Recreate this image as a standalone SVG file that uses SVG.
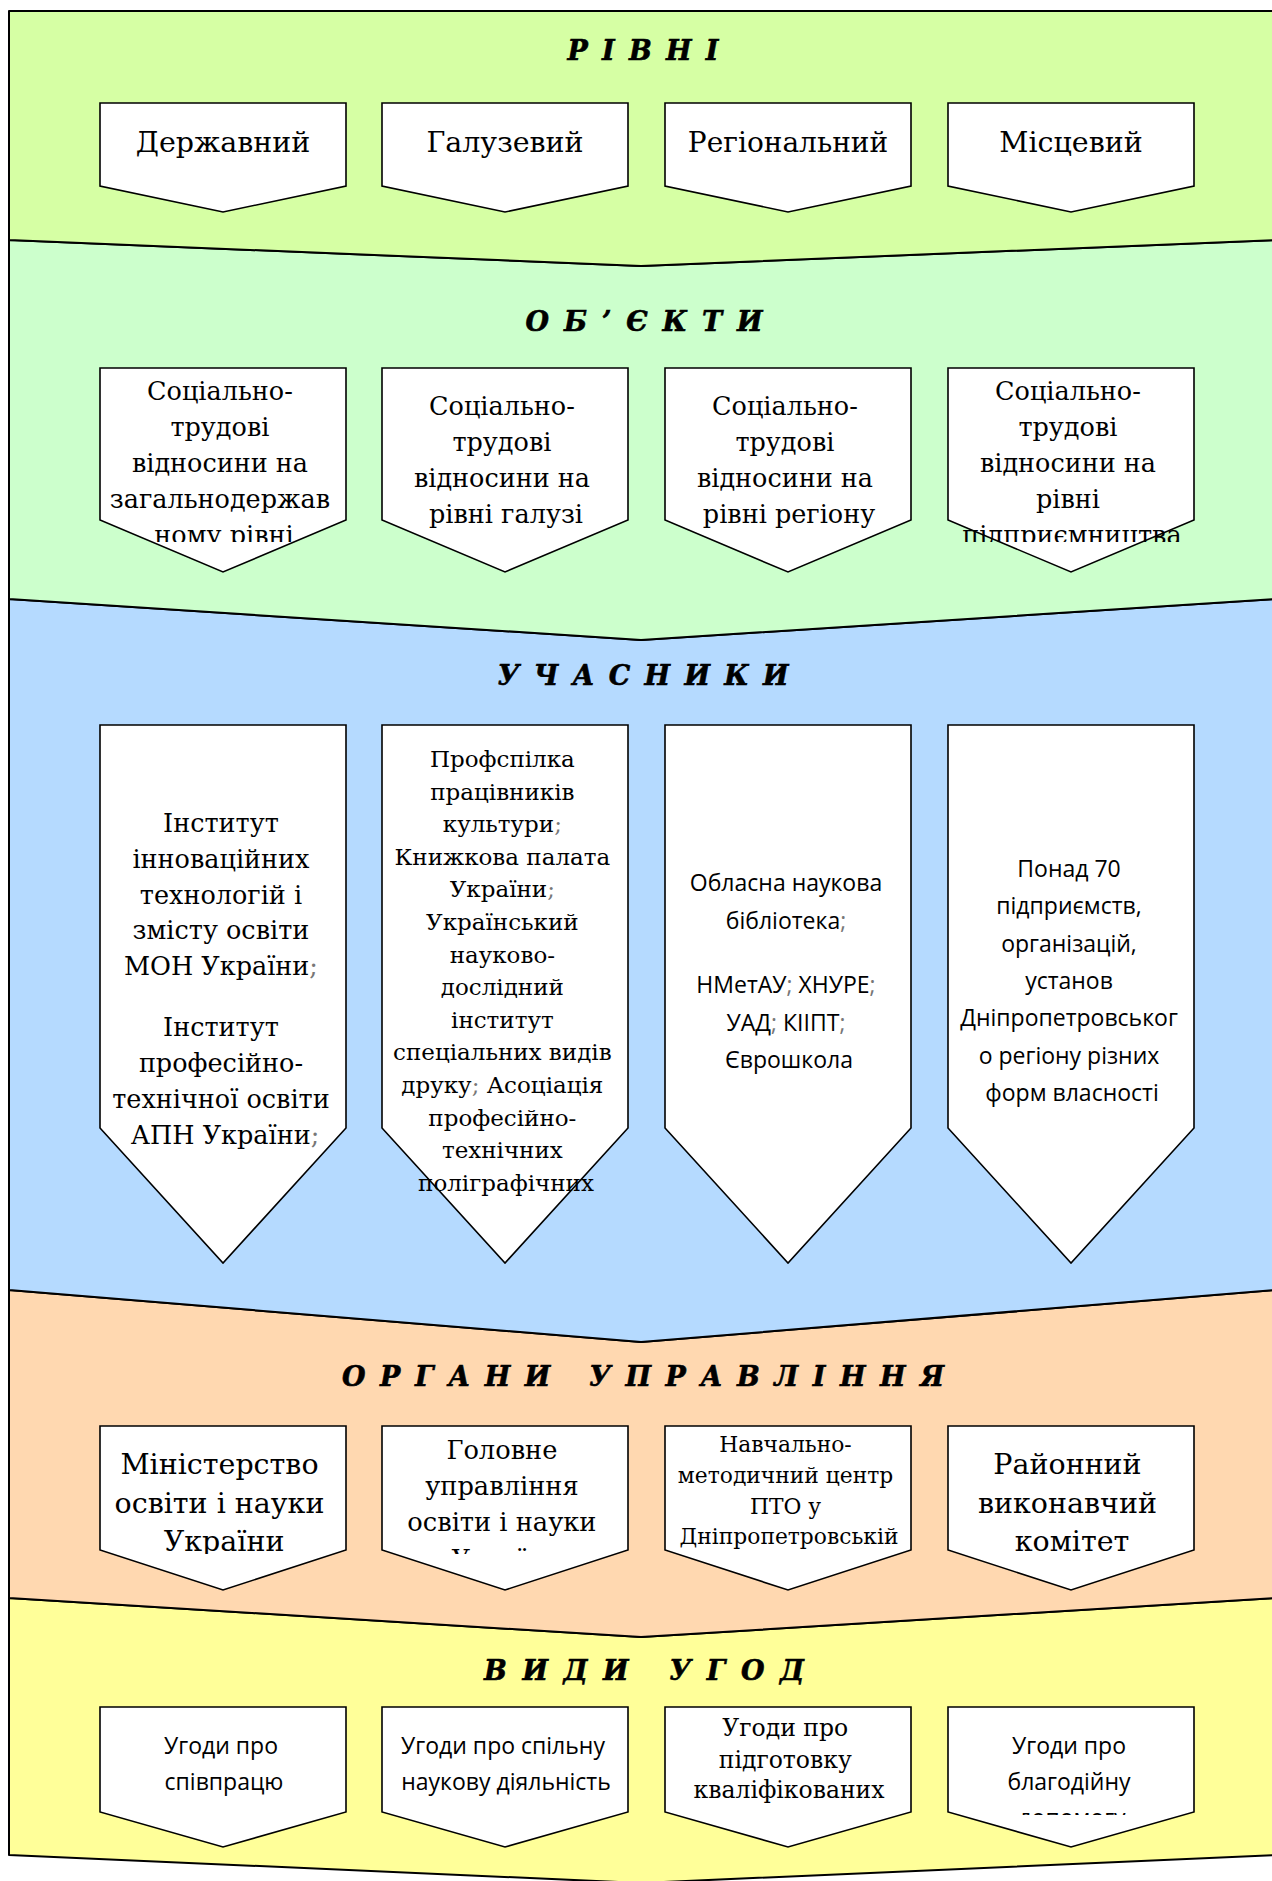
<svg xmlns="http://www.w3.org/2000/svg" width="1272" height="1881" viewBox="0 0 1272 1881">
<style>
.band{stroke:#000;stroke-width:2;stroke-linejoin:round}
.box{fill:#fff;stroke:#000;stroke-width:1.6;stroke-linejoin:miter}
.title{font-family:"DejaVu Serif","Liberation Serif",serif;font-weight:bold;font-style:italic;font-size:27px;fill:#000;white-space:pre;stroke:#000;stroke-width:0.6}
.sf{font-family:"DejaVu Serif","Liberation Serif",serif;fill:#000;text-anchor:middle}
.ss{font-family:"Open Sans","Noto Sans",sans-serif;fill:#000;text-anchor:middle}
.semi{fill:#777}
</style>
<defs>
<clipPath id="clipR2"><rect x="0" y="368" width="1272" height="174"/></clipPath>
<clipPath id="clipR3"><rect x="0" y="725" width="1272" height="473"/></clipPath>
<clipPath id="clipR4"><rect x="0" y="1426" width="1272" height="128"/></clipPath>
<clipPath id="clipR5"><rect x="0" y="1707" width="1272" height="108"/></clipPath>
</defs>

<g id="bands">
<polygon id="band-vydy" class="band" fill="#FFFF99" points="9,1598 641,1637 1276,1598 1276,1855 641,1883 9,1855"/>
<polygon id="band-orhany" class="band" fill="#FFD8B0" points="9,1290 641,1342 1276,1290 1276,1598 641,1637 9,1598"/>
<polygon id="band-uchasnyky" class="band" fill="#B5DAFF" points="9,599 641,640 1276,599 1276,1290 641,1342 9,1290"/>
<polygon id="band-obiekty" class="band" fill="#CCFFCC" points="9,240 641,266 1276,240 1276,599 641,640 9,599"/>
<polygon id="band-rivni" class="band" fill="#D6FFA4" points="9,11 1276,11 1276,240 641,266 9,240"/>
</g>

<g id="titles">
<text class="title" x="643" y="60" text-anchor="middle" textLength="151" lengthAdjust="spacing">Р І В Н І</text>
<text class="title" x="644" y="331" text-anchor="middle" textLength="237" lengthAdjust="spacing">О Б ’ Є К Т И</text>
<text class="title" x="643" y="685" text-anchor="middle" textLength="291" lengthAdjust="spacing">У Ч А С Н И К И</text>
<text class="title" x="643" y="1386" text-anchor="middle" textLength="602" lengthAdjust="spacing">О Р Г А Н И   У П Р А В Л І Н Н Я</text>
<text class="title" x="644" y="1680" text-anchor="middle" textLength="320" lengthAdjust="spacing">В И Д И   У Г О Д</text>
</g>

<!-- Row 1: Рівні -->
<g id="rivni-derzhavnyi">
<path class="box" d="M100,103 H346 V186 L223,212 L100,186 Z"/>
<text class="sf" font-size="28.5" x="223" y="152">Державний</text>
</g>
<g id="rivni-haluzevyi">
<path class="box" d="M382,103 H628 V186 L505,212 L382,186 Z"/>
<text class="sf" font-size="28.5" x="505" y="152">Галузевий</text>
</g>
<g id="rivni-rehionalnyi">
<path class="box" d="M665,103 H911 V186 L788,212 L665,186 Z"/>
<text class="sf" font-size="28" x="788" y="152">Регіональний</text>
</g>
<g id="rivni-mistsevyi">
<path class="box" d="M948,103 H1194 V186 L1071,212 L948,186 Z"/>
<text class="sf" font-size="28.5" x="1071" y="152">Місцевий</text>
</g>

<!-- Row 2: Об'єкти -->
<g id="obiekty-1">
<path class="box" d="M100,368 H346 V520 L223,572 L100,520 Z"/>
<text class="sf" font-size="25.5" clip-path="url(#clipR2)">
<tspan x="224" y="400">Соціально-</tspan>
<tspan x="224" y="436">трудові</tspan>
<tspan x="224" y="472">відносини на</tspan>
<tspan x="224" y="508">загальнодержав</tspan>
<tspan x="224" y="544">ному рівні</tspan>
</text>
</g>
<g id="obiekty-2">
<path class="box" d="M382,368 H628 V520 L505,572 L382,520 Z"/>
<text class="sf" font-size="25.5" clip-path="url(#clipR2)">
<tspan x="506" y="415">Соціально-</tspan>
<tspan x="506" y="451">трудові</tspan>
<tspan x="506" y="487">відносини на</tspan>
<tspan x="506" y="523">рівні галузі</tspan>
</text>
</g>
<g id="obiekty-3">
<path class="box" d="M665,368 H911 V520 L788,572 L665,520 Z"/>
<text class="sf" font-size="25.5" clip-path="url(#clipR2)">
<tspan x="789" y="415">Соціально-</tspan>
<tspan x="789" y="451">трудові</tspan>
<tspan x="789" y="487">відносини на</tspan>
<tspan x="789" y="523">рівні регіону</tspan>
</text>
</g>
<g id="obiekty-4">
<path class="box" d="M948,368 H1194 V520 L1071,572 L948,520 Z"/>
<text class="sf" font-size="25.5" clip-path="url(#clipR2)">
<tspan x="1072" y="400">Соціально-</tspan>
<tspan x="1072" y="436">трудові</tspan>
<tspan x="1072" y="472">відносини на</tspan>
<tspan x="1072" y="508">рівні</tspan>
<tspan x="1072" y="544">підприємництва</tspan>
</text>
</g>

<!-- Row 3: Учасники -->
<g id="uchasnyky-1">
<path class="box" d="M100,725 H346 V1128 L223,1263 L100,1128 Z"/>
<text class="sf" font-size="25.5">
<tspan x="225" y="832">Інститут</tspan>
<tspan x="225" y="868">інноваційних</tspan>
<tspan x="225" y="904">технологій і</tspan>
<tspan x="225" y="939">змісту освіти</tspan>
<tspan x="225" y="975">МОН України<tspan class="semi">;</tspan></tspan>
<tspan x="225" y="1036">Інститут</tspan>
<tspan x="225" y="1072">професійно-</tspan>
<tspan x="225" y="1108">технічної освіти</tspan>
<tspan x="225" y="1144">АПН України<tspan class="semi">;</tspan></tspan>
</text>
</g>
<g id="uchasnyky-2">
<path class="box" d="M382,725 H628 V1128 L505,1263 L382,1128 Z"/>
<text class="sf" font-size="23" clip-path="url(#clipR3)">
<tspan x="506" y="767">Профспілка</tspan>
<tspan x="506" y="800">працівників</tspan>
<tspan x="506" y="832">культури<tspan class="semi">;</tspan></tspan>
<tspan x="506" y="865">Книжкова палата</tspan>
<tspan x="506" y="897">України<tspan class="semi">;</tspan></tspan>
<tspan x="506" y="930">Український</tspan>
<tspan x="506" y="963">науково-</tspan>
<tspan x="506" y="995">дослідний</tspan>
<tspan x="506" y="1028">інститут</tspan>
<tspan x="506" y="1060">спеціальних видів</tspan>
<tspan x="506" y="1093">друку<tspan class="semi">;</tspan> Асоціація</tspan>
<tspan x="506" y="1126">професійно-</tspan>
<tspan x="506" y="1158">технічних</tspan>
<tspan x="506" y="1191">поліграфічних</tspan>
</text>
</g>
<g id="uchasnyky-3">
<path class="box" d="M665,725 H911 V1128 L788,1263 L665,1128 Z"/>
<text class="ss" font-size="23">
<tspan x="789" y="891">Обласна наукова</tspan>
<tspan x="789" y="929">бібліотека<tspan class="semi">;</tspan></tspan>
<tspan x="789" y="993">НМетАУ<tspan class="semi">;</tspan> ХНУРЕ<tspan class="semi">;</tspan></tspan>
<tspan x="789" y="1031">УАД<tspan class="semi">;</tspan> КІІПТ<tspan class="semi">;</tspan></tspan>
<tspan x="789" y="1068">Єврошкола</tspan>
</text>
</g>
<g id="uchasnyky-4">
<path class="box" d="M948,725 H1194 V1128 L1071,1263 L948,1128 Z"/>
<text class="ss" font-size="23">
<tspan x="1072" y="877">Понад 70</tspan>
<tspan x="1072" y="914">підприємств,</tspan>
<tspan x="1072" y="952">організацій,</tspan>
<tspan x="1072" y="989">установ</tspan>
<tspan x="1072" y="1026">Дніпропетровськог</tspan>
<tspan x="1072" y="1064">о регіону різних</tspan>
<tspan x="1072" y="1101">форм власності</tspan>
</text>
</g>

<!-- Row 4: Органи управління -->
<g id="orhany-1">
<path class="box" d="M100,1426 H346 V1550 L223,1590 L100,1550 Z"/>
<text class="sf" font-size="28.5" clip-path="url(#clipR4)">
<tspan x="224" y="1474">Міністерство</tspan>
<tspan x="224" y="1513">освіти і науки</tspan>
<tspan x="224" y="1551">України</tspan>
</text>
</g>
<g id="orhany-2">
<path class="box" d="M382,1426 H628 V1550 L505,1590 L382,1550 Z"/>
<text class="sf" font-size="25.7" clip-path="url(#clipR4)">
<tspan x="506" y="1459">Головне</tspan>
<tspan x="506" y="1495">управління</tspan>
<tspan x="506" y="1531">освіти і науки</tspan>
<tspan x="506" y="1568">України</tspan>
</text>
</g>
<g id="orhany-3">
<path class="box" d="M665,1426 H911 V1550 L788,1590 L665,1550 Z"/>
<text class="sf" font-size="21.8" clip-path="url(#clipR4)">
<tspan x="789" y="1452">Навчально-</tspan>
<tspan x="789" y="1483">методичний центр</tspan>
<tspan x="789" y="1514">ПТО у</tspan>
<tspan x="789" y="1544">Дніпропетровській</tspan>
</text>
</g>
<g id="orhany-4">
<path class="box" d="M948,1426 H1194 V1550 L1071,1590 L948,1550 Z"/>
<text class="sf" font-size="28.5" clip-path="url(#clipR4)">
<tspan x="1072" y="1474">Районний</tspan>
<tspan x="1072" y="1513">виконавчий</tspan>
<tspan x="1072" y="1551">комітет</tspan>
</text>
</g>

<!-- Row 5: Види угод -->
<g id="uhody-1">
<path class="box" d="M100,1707 H346 V1812 L223,1847 L100,1812 Z"/>
<text class="ss" font-size="23" clip-path="url(#clipR5)">
<tspan x="224" y="1754">Угоди про</tspan>
<tspan x="224" y="1790">співпрацю</tspan>
</text>
</g>
<g id="uhody-2">
<path class="box" d="M382,1707 H628 V1812 L505,1847 L382,1812 Z"/>
<text class="ss" font-size="23" clip-path="url(#clipR5)">
<tspan x="506" y="1754">Угоди про спільну</tspan>
<tspan x="506" y="1790">наукову діяльність</tspan>
</text>
</g>
<g id="uhody-3">
<path class="box" d="M665,1707 H911 V1812 L788,1847 L665,1812 Z"/>
<text class="sf" font-size="23.5" clip-path="url(#clipR5)">
<tspan x="789" y="1736">Угоди про</tspan>
<tspan x="789" y="1768">підготовку</tspan>
<tspan x="789" y="1798">кваліфікованих</tspan>
</text>
</g>
<g id="uhody-4">
<path class="box" d="M948,1707 H1194 V1812 L1071,1847 L948,1812 Z"/>
<text class="ss" font-size="23" clip-path="url(#clipR5)">
<tspan x="1072" y="1754">Угоди про</tspan>
<tspan x="1072" y="1790">благодійну</tspan>
<tspan x="1072" y="1826">допомогу</tspan>
</text>
</g>

<g id="connectors"></g>
</svg>
